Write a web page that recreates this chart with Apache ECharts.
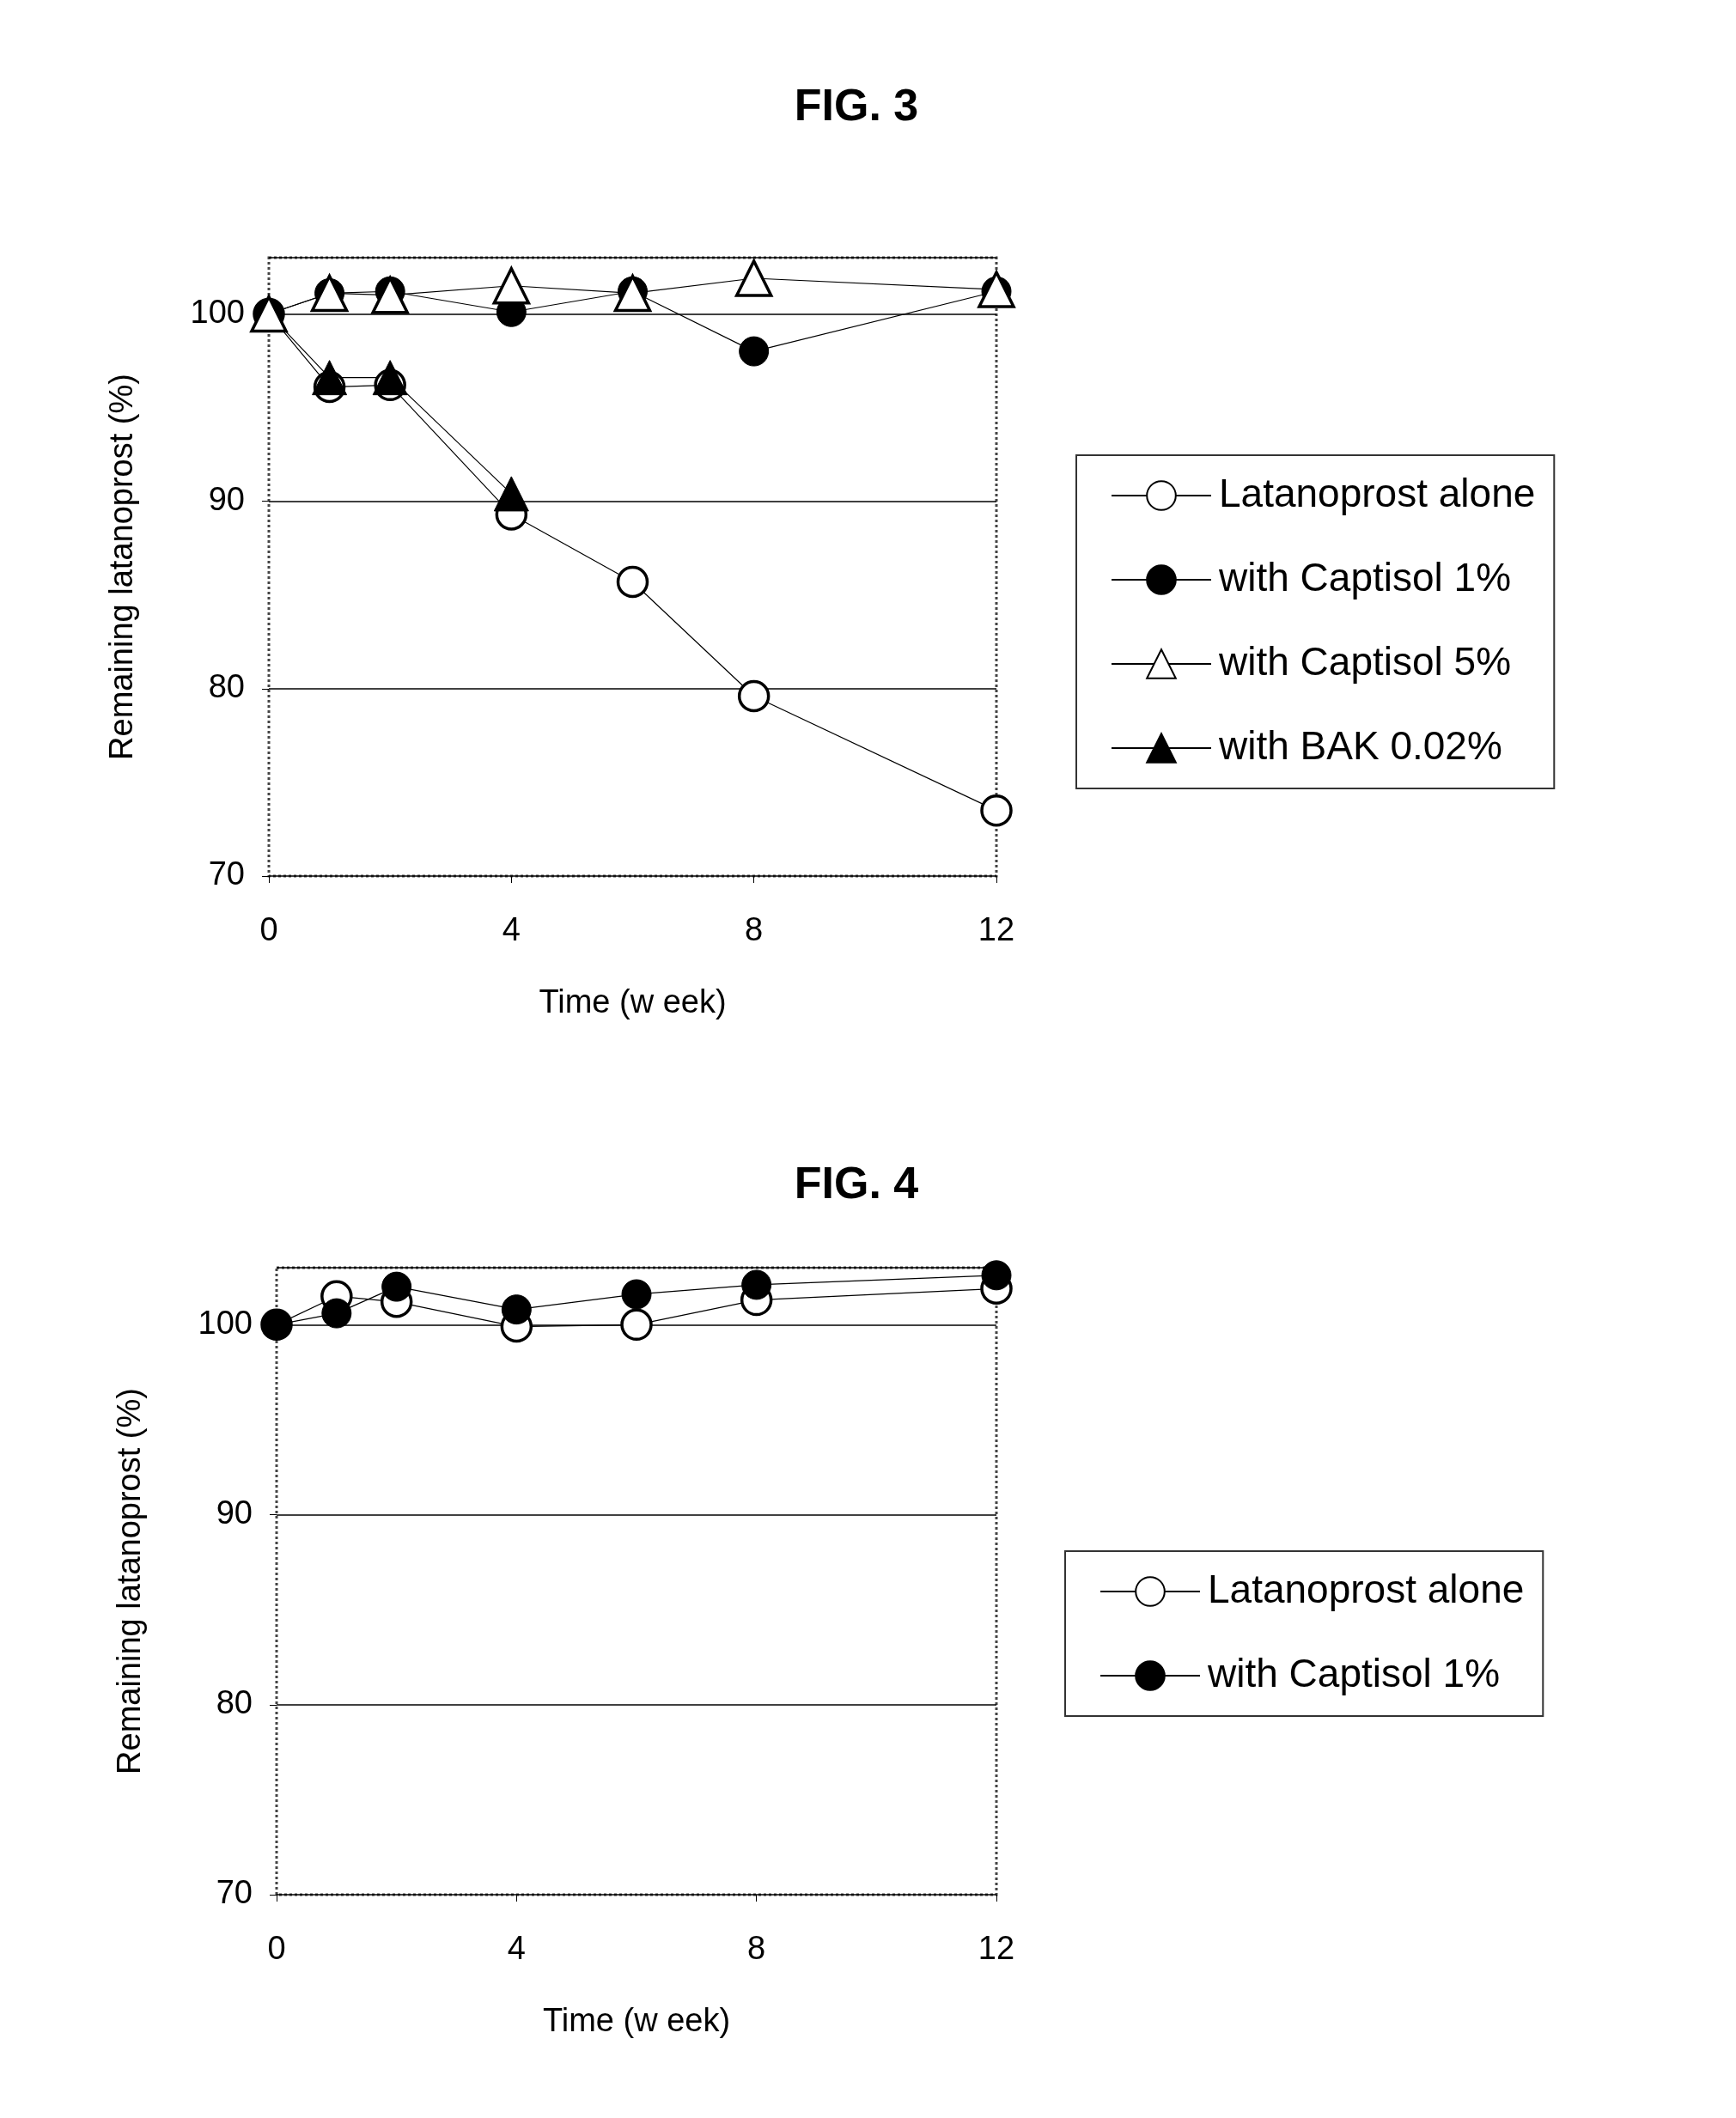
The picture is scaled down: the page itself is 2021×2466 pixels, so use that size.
<!DOCTYPE html>
<html>
<head>
<meta charset="utf-8">
<script src="https://cdn.jsdelivr.net/npm/echarts@6/dist/echarts.min.js"></script>
<style>
  html, body { margin: 0; padding: 0; background: #fff; }
  #map1 { width: 2021px; height: 2466px; }
</style>
</head>
<body>
<div id="map1"></div>
<script>
// weeks sampled
var weeks = [0, 1, 2, 4, 6, 8, 12]
var weeksBak = [0, 1, 2, 4]

// FIG. 3
var f3Alone = [100, 96.1, 96.2, 89.3, 85.7, 79.6, 73.5]
var f3Cap1 = [100, 101.1, 101.2, 100.1, 101.2, 98.0, 101.2]
var f3Cap5 = [100, 101.1, 101.0, 101.5, 101.1, 101.9, 101.3]
var f3Bak = [100, 96.6, 96.6, 90.4]

// FIG. 4
var f4Alone = [100, 101.5, 101.2, 99.9, 100, 101.3, 101.9]
var f4Cap1 = [100, 100.6, 102.0, 100.8, 101.6, 102.1, 102.6]

var xTicks = [0, 4, 8, 12]
var yTicks = [70, 80, 90, 100]

var charts = echarts.init(document.getElementById('map1'));

function pairs(xs, ys) {
    return ys.map(function (v, i) { return [xs[i], v] })
}

var font = 'Liberation Sans, Arial, sans-serif'
var openMark = { color: '#fff', borderColor: '#000', borderWidth: 3.5 }
var fillMark = { color: '#000', borderColor: '#000', borderWidth: 1 }

function mkSeries(name, xs, ys, symbol, style, idx) {
    return {
        name: name,
        type: 'line',
        xAxisIndex: idx,
        yAxisIndex: idx,
        data: pairs(xs, ys),
        symbol: symbol,
        symbolSize: symbol === 'triangle' ? 40 : 34,
        showAllSymbol: true,
        itemStyle: style,
        lineStyle: { color: '#000', width: 1.2 },
        emphasis: { disabled: true },
        animation: false
    }
}

function xAx(idx) {
    return {
        gridIndex: idx, type: 'value', min: 0, max: 12, interval: 4,
        name: 'Time (w eek)', nameLocation: 'middle', nameGap: 130,
        nameTextStyle: { fontSize: 38, color: '#000', fontFamily: font },
        axisLine: { show: false },
        axisTick: { show: true, length: 8, lineStyle: { color: '#000' } },
        axisLabel: { fontSize: 38, color: '#000', fontFamily: font, margin: 46 },
        splitLine: { show: false }
    }
}

function yAx(idx) {
    return {
        gridIndex: idx, type: 'value', min: 70, max: 103, interval: 10,
        name: 'Remaining latanoprost (%)', nameLocation: 'middle', nameGap: 150,
        nameTextStyle: { fontSize: 38, color: '#000', fontFamily: font },
        axisLine: { show: false },
        axisTick: { show: true, length: 8, lineStyle: { color: '#000' } },
        axisLabel: {
            fontSize: 38, color: '#000', fontFamily: font, margin: 28,
            showMaxLabel: false,
            formatter: function (v) { return yTicks.indexOf(v) >= 0 ? v : '' }
        },
        splitLine: { show: true, lineStyle: { color: '#000', width: 1.5 } }
    }
}

function legend(names, left, top, gap) {
    return {
        data: names, orient: 'vertical', left: left, top: top,
        padding: [24, 22, 24, 40], itemGap: gap,
        itemWidth: 116, itemHeight: 42,
        borderColor: '#333', borderWidth: 2,
        selectedMode: false,
        textStyle: { fontSize: 46, color: '#000', fontFamily: font, padding: [0, 0, 0, 4] }
    }
}

const option = {
    backgroundColor: '#fff',
    title: [
        { text: 'FIG. 3', left: 992, top: 95, textAlign: 'center',
          textStyle: { fontSize: 52, fontWeight: 'bold', fontFamily: font, color: '#000' } },
        { text: 'FIG. 4', left: 992, top: 1350, textAlign: 'center',
          textStyle: { fontSize: 52, fontWeight: 'bold', fontFamily: font, color: '#000' } }
    ],
    legend: [
        legend(['Latanoprost alone', 'with Captisol 1%', 'with Captisol 5%', 'with BAK 0.02%'], 1253, 530, 52),
        legend(['Latanoprost alone', 'with Captisol 1%'], 1240, 1806, 52)
    ],
    grid: [
        { left: 313, top: 300, width: 847, height: 720, show: true,
          borderColor: '#444', borderWidth: 3, borderType: 'dotted' },
        { left: 322, top: 1476, width: 838, height: 730, show: true,
          borderColor: '#444', borderWidth: 3, borderType: 'dotted' }
    ],
    xAxis: [xAx(0), xAx(1)],
    yAxis: [yAx(0), yAx(1)],
    series: [
        mkSeries('Latanoprost alone', weeks, f3Alone, 'circle', openMark, 0),
        mkSeries('with BAK 0.02%', weeksBak, f3Bak, 'triangle', fillMark, 0),
        mkSeries('with Captisol 1%', weeks, f3Cap1, 'circle', fillMark, 0),
        mkSeries('with Captisol 5%', weeks, f3Cap5, 'triangle', openMark, 0),
        mkSeries('Latanoprost alone', weeks, f4Alone, 'circle', openMark, 1),
        mkSeries('with Captisol 1%', weeks, f4Cap1, 'circle', fillMark, 1)
    ]
};
charts.setOption(option);
</script>
</body>
</html>
